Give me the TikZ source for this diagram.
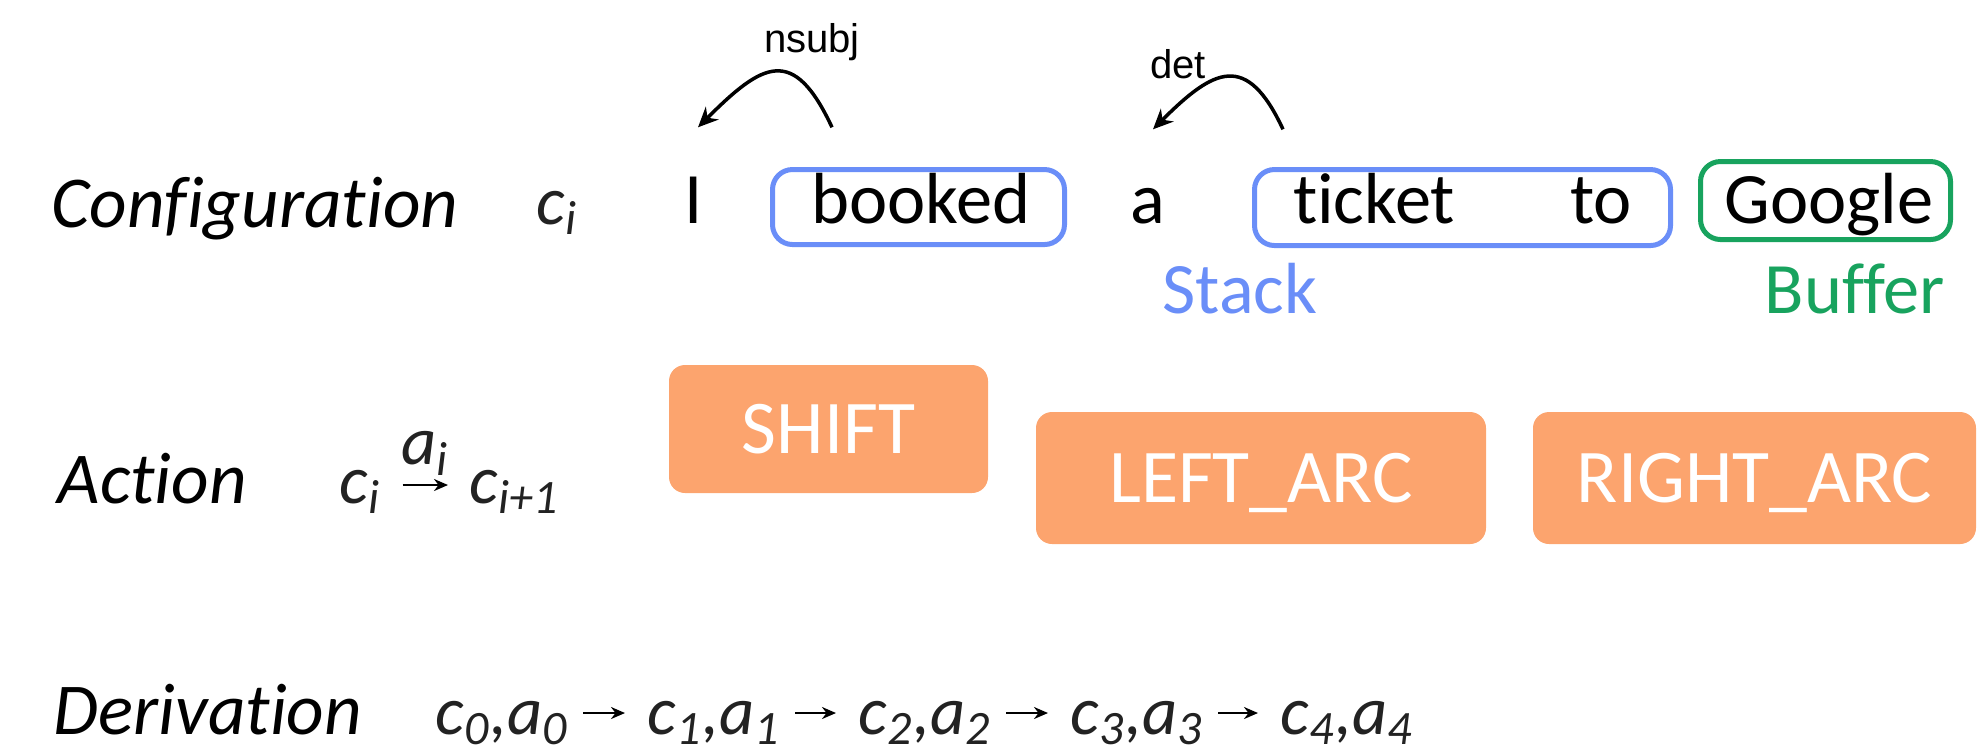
\documentclass[tikz,border=0pt]{standalone}
\usepackage{fontspec}
\setmainfont{Carlito}[Ligatures=NoCommon]
\newfontfamily\arcfont{Liberation Sans}
\usetikzlibrary{arrows.meta}
\definecolor{stackblue}{HTML}{6A8EF8}
\definecolor{buffergreen}{HTML}{18A35E}
\definecolor{actionorange}{HTML}{FCA46E}
\definecolor{mathtext}{HTML}{222222}

\begin{document}
\begin{tikzpicture}[
    >={Stealth[length=0.2cm, width=0.18cm]},
    rowlabel/.style={anchor=base west, inner sep=0, font=\fontsize{20.8pt}{24pt}\selectfont\itshape},
    word/.style={anchor=base, inner sep=0, text height=0.5cm, font=\fontsize{20.6pt}{24pt}\selectfont},
    mathtxt/.style={anchor=base west, inner sep=0, text=mathtext, font=\fontsize{19.5pt}{24pt}\selectfont\itshape},
    wordbox/.style={draw=#1, line width=0.05cm, rounded corners=0.2cm},
    actionbox/.style={fill=actionorange, rounded corners=0.16cm, text=white, text depth=0pt, font=\fontsize{21.6pt}{24pt}\selectfont},
    arclabel/.style={anchor=base, inner sep=0, font={\arcfont\fontsize{11.4pt}{13pt}\selectfont}},
    thinarrow/.style={line width=0.7pt, >={Stealth[length=0.14cm, width=0.12cm]}},
]
        \useasboundingbox (0, 0) rectangle (19.77, -7.52);
        % Row labels
        \node[rowlabel] (Conf) at (0.51, -2.27) {Configuration};
        \node[rowlabel] (Act) at (0.57, -5.03) {Action};
        \node[rowlabel] (Der) at (0.53, -7.34) {Derivation};
        % Configuration c_i
        \node[mathtxt] (C) at (5.36, -2.24) {c\textsubscript{i}};
        % Stack and buffer boxes
        \node[wordbox=stackblue, minimum width=2.92cm, minimum height=0.75cm] (SB1) at (9.185, -2.07) {};
        \node[wordbox=stackblue, minimum width=4.16cm, minimum height=0.76cm] (SB2) at (14.625, -2.075) {};
        \node[wordbox=buffergreen, minimum width=2.50cm, minimum height=0.78cm] (BB) at (18.255, -2.005) {};
        % Words of the sentence
        \node[word] (wI) at (6.94, -2.23) {I};
        \node[word] (wbooked) at (9.21, -2.23) {booked};
        \node[word] (wa) at (11.48, -2.23) {a};
        \node[word] (wticket) at (13.74, -2.23) {ticket};
        \node[word] (wto) at (16.01, -2.23) {to};
        \node[word] (wgoogle) at (18.29, -2.23) {Google};
        % Stack / Buffer captions
        \node[word, text=stackblue] (Stack) at (12.40, -3.13) {Stack};
        \node[word, text=buffergreen] (Buffer) at (18.55, -3.13) {Buffer};
        % Arc labels
        \node[arclabel] (L1) at (8.12, -0.52) {nsubj};
        \node[arclabel] (L2) at (11.78, -0.78) {det};
        % Dependency arcs
        \path[->, line width=1pt] ([xshift=-0.89cm, yshift=0.45cm]wbooked.north) edge[out=115, in=45, looseness=1.75] ([xshift=0.04cm, yshift=0.45cm]wI.north);
        \path[->, line width=1pt] ([xshift=-0.91cm, yshift=0.43cm]wticket.north) edge[out=115, in=45, looseness=1.7] ([xshift=0.05cm, yshift=0.43cm]wa.north);
        % Actions
        \node[actionbox, minimum width=3.19cm, minimum height=1.28cm] (Shift) at (8.285, -4.29) {SHIFT};
        \node[actionbox, minimum width=4.50cm, minimum height=1.32cm] (Left) at (12.61, -4.78) {LEFT\_ARC};
        \node[actionbox, minimum width=4.43cm, minimum height=1.32cm] (Right) at (17.545, -4.78) {RIGHT\_ARC};
        % Transition c_i -> c_i+1
        \node[mathtxt] (Ci) at (3.39, -5.03) {c\textsubscript{i}};
        \node[mathtxt] (Cn) at (4.69, -5.03) {c\textsubscript{i+1}};
        \path[thinarrow, ->] ([xshift=0.21cm, yshift=0.18cm]Ci.base east) edge node[above=0.08cm, mathtxt, anchor=south] {a\textsubscript{i}} ([xshift=-0.21cm, yshift=0.18cm]Cn.base west);
        % Derivation
        \foreach \k/\x in {0/4.35, 1/6.47, 2/8.58, 3/10.70, 4/12.80}
            \node[mathtxt] (D\k) at (\x, -7.34) {c\textsubscript{\k},a\textsubscript{\k}};
        \foreach \k [evaluate=\k as \n using int(\k+1)] in {0,...,3}
            \path[thinarrow, ->] ([xshift=0.14cm, yshift=0.21cm]D\k.base east) edge ([xshift=-0.22cm, yshift=0.21cm]D\n.base west);
    \end{tikzpicture}
\end{document}
